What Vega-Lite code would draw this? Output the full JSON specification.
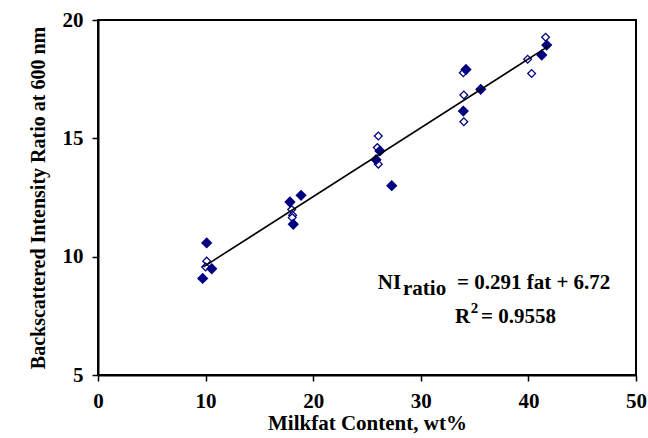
{
  "$schema": "https://vega.github.io/schema/vega-lite/v6.json",
  "width": 538,
  "height": 355,
  "autosize": {"type": "none"},
  "padding": {"left": 98, "top": 20, "right": 12, "bottom": 63},
  "background": "white",
  "config": {
    "view": {"stroke": "black", "strokeWidth": 2},
    "axis": {
      "grid": false,
      "domainColor": "black",
      "domainWidth": 2,
      "tickColor": "black",
      "tickWidth": 1.5,
      "tickSize": 6,
      "labelFont": "Liberation Serif",
      "labelFontWeight": "bold",
      "labelFontSize": 21,
      "labelColor": "black",
      "titleFont": "Liberation Serif",
      "titleFontWeight": "bold",
      "titleFontSize": 21,
      "titleColor": "black"
    },
    "text": {"font": "Liberation Serif", "fontWeight": "bold", "color": "black"}
  },
  "datasets": {
    "points": [
      {"fat": 10.1, "ni": 9.81, "type": "open"},
      {"fat": 10.0, "ni": 9.56, "type": "open"},
      {"fat": 18.0, "ni": 11.99, "type": "open"},
      {"fat": 18.09, "ni": 11.75, "type": "open"},
      {"fat": 18.05, "ni": 11.65, "type": "open"},
      {"fat": 26.05, "ni": 15.1, "type": "open"},
      {"fat": 25.96, "ni": 14.61, "type": "open"},
      {"fat": 26.05, "ni": 13.91, "type": "open"},
      {"fat": 33.95, "ni": 17.77, "type": "open"},
      {"fat": 34.0, "ni": 16.83, "type": "open"},
      {"fat": 34.0, "ni": 15.7, "type": "open"},
      {"fat": 39.93, "ni": 18.34, "type": "open"},
      {"fat": 40.3, "ni": 17.74, "type": "open"},
      {"fat": 41.6, "ni": 19.27, "type": "open"},
      {"fat": 9.73, "ni": 9.08, "type": "filled"},
      {"fat": 10.1, "ni": 10.58, "type": "filled"},
      {"fat": 10.57, "ni": 9.49, "type": "filled"},
      {"fat": 17.84, "ni": 12.31, "type": "filled"},
      {"fat": 18.87, "ni": 12.59, "type": "filled"},
      {"fat": 18.15, "ni": 11.37, "type": "filled"},
      {"fat": 25.84, "ni": 14.1, "type": "filled"},
      {"fat": 26.2, "ni": 14.47, "type": "filled"},
      {"fat": 27.3, "ni": 13.0, "type": "filled"},
      {"fat": 33.95, "ni": 16.15, "type": "filled"},
      {"fat": 34.2, "ni": 17.91, "type": "filled"},
      {"fat": 35.57, "ni": 17.07, "type": "filled"},
      {"fat": 41.24, "ni": 18.52, "type": "filled"},
      {"fat": 41.7, "ni": 18.94, "type": "filled"}
    ],
    "trend": [
      {"fat": 9.8, "ni": 9.57},
      {"fat": 41.94, "ni": 18.92}
    ],
    "notes": [
      {"part": "NI", "x": 26.0, "y": 8.62},
      {"part": "ratio", "x": 28.35, "y": 8.36},
      {"part": "= 0.291 fat + 6.72", "x": 33.36, "y": 8.62},
      {"part": "R", "x": 33.18, "y": 7.18},
      {"part": "= 0.9558", "x": 35.6, "y": 7.18}
    ],
    "sup": [
      {"part": "2", "x": 34.65, "y": 7.62}
    ]
  },
  "layer": [
    {
      "data": {"name": "points"},
      "mark": {"type": "point", "shape": "diamond", "filled": true, "stroke": "#000080", "strokeWidth": 1.3, "opacity": 1},
      "encoding": {
        "x": {"field": "fat", "type": "quantitative", "scale": {"domain": [0, 50], "nice": false}, "axis": {"values": [0, 10, 20, 30, 40, 50], "title": "Milkfat Content, wt%", "labelPadding": 9, "titlePadding": 1, "labelFlush": false}},
        "y": {"field": "ni", "type": "quantitative", "scale": {"domain": [5, 20], "nice": false, "zero": false}, "axis": {"values": [5, 10, 15, 20], "title": "Backscattered Intensity Ratio at 600 nm", "titleFontSize": 20, "labelPadding": 9, "titlePadding": 14, "labelFlush": false}},
        "fill": {"field": "type", "type": "nominal", "scale": {"domain": ["filled", "open"], "range": ["#000080", "#ffffff"]}, "legend": null},
        "size": {"field": "type", "type": "nominal", "scale": {"domain": ["filled", "open"], "range": [90, 60]}, "legend": null},
        "order": {"field": "type", "sort": "descending"}
      }
    },
    {
      "data": {"name": "trend"},
      "mark": {"type": "line", "color": "black", "strokeWidth": 1.6},
      "encoding": {
        "x": {"field": "fat", "type": "quantitative"},
        "y": {"field": "ni", "type": "quantitative"}
      }
    },
    {
      "data": {"name": "notes"},
      "mark": {"type": "text", "fontSize": 21, "align": "left", "baseline": "alphabetic"},
      "encoding": {
        "x": {"field": "x", "type": "quantitative"},
        "y": {"field": "y", "type": "quantitative"},
        "text": {"field": "part"}
      }
    },
    {
      "data": {"name": "sup"},
      "mark": {"type": "text", "fontSize": 15, "align": "left", "baseline": "alphabetic"},
      "encoding": {
        "x": {"field": "x", "type": "quantitative"},
        "y": {"field": "y", "type": "quantitative"},
        "text": {"field": "part"}
      }
    }
  ]
}
